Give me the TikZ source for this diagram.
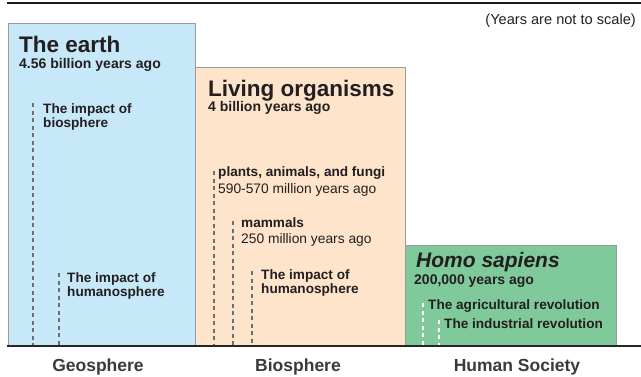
\documentclass[tikz,border=0pt]{standalone}
\usepackage{fontspec}
\setmainfont{Liberation Sans}
\definecolor{txt}{HTML}{231F20}
\definecolor{lbl}{HTML}{3A3A3A}
\definecolor{geo}{HTML}{C6E8F8}
\definecolor{bio}{HTML}{FDE4CB}
\definecolor{hum}{HTML}{7FC99A}
\definecolor{frame}{HTML}{9A9A9A}
\definecolor{dash}{HTML}{6E6E6E}
\tikzset{
  box/.style={draw=frame, line width=0.9pt},
  ttl/.style={anchor=base west, inner sep=0pt, text=txt, font=\fontsize{22.5}{24}\selectfont\bfseries},
  sub/.style={anchor=base west, inner sep=0pt, text=txt, font=\fontsize{14}{16}\selectfont\bfseries},
  lab/.style={anchor=base west, inner sep=0pt, text=txt, font=\fontsize{13.6}{14}\selectfont\bfseries},
  reg/.style={anchor=base west, inner sep=0pt, text=txt, font=\fontsize{13.8}{16}\selectfont},
  bot/.style={anchor=base, inner sep=0pt, text=lbl, font=\fontsize{17.5}{20}\selectfont\bfseries},
  gdash/.style={draw=dash, line width=1.3pt, dash pattern=on 4pt off 3.5pt},
  wdash/.style={draw=white, line width=1.4pt, dash pattern=on 4pt off 3.5pt},
}
\begin{document}
\begin{tikzpicture}[x=1pt, y=-1pt]
\useasboundingbox (0,0) rectangle (641,376);
% boxes
\path[box, fill=geo] (8,23) rectangle (195,346);
\path[box, fill=bio] (195,67) rectangle (405,346);
\path[box, fill=hum] (405,245) rectangle (616,346);
% rules
\coordinate (topL) at (7,3);
\coordinate (topR) at (641,3);
\draw[line width=1.3pt, black!90] (topL) -- (topR);
\coordinate (baseL) at (7,346);
\coordinate (baseR) at (641,346);
% dashed markers
\coordinate (g1t) at (33,103);  \coordinate (g1b) at (33,346);
\coordinate (g2t) at (59,273);  \coordinate (g2b) at (59,346);
\coordinate (b1t) at (214,171); \coordinate (b1b) at (214,346);
\coordinate (b2t) at (233,221); \coordinate (b2b) at (233,346);
\coordinate (b3t) at (252,271); \coordinate (b3b) at (252,346);
\coordinate (h1t) at (423,303); \coordinate (h1b) at (423,346);
\coordinate (h2t) at (439,320); \coordinate (h2b) at (439,346);
\draw[gdash] (g1t) -- (g1b);
\draw[gdash] (g2t) -- (g2b);
\draw[gdash] (b1t) -- (b1b);
\draw[gdash] (b2t) -- (b2b);
\draw[gdash] (b3t) -- (b3b);
\draw[wdash] (h1t) -- (h1b);
\draw[wdash] (h2t) -- (h2b);
\draw[line width=1.2pt, black!85] (baseL) -- (baseR);
% texts
\node[reg, anchor=base east, font=\fontsize{14.6}{16}\selectfont] (note) at (636,24) {(Years are not to scale)};
\node[ttl] (earth) at (19,52) {The earth};
\node[sub] (earthd) at (19,68) {4.56 billion years ago};
\node[lab] (gi1a) at (43,113) {The impact of};
\node[lab] (gi1b) at (43,127) {biosphere};
\node[lab] (gi2a) at (67,282) {The impact of};
\node[lab] (gi2b) at (67,296) {humanosphere};
\node[ttl] (life) at (208,96) {Living organisms};
\node[sub] (lifed) at (208,111) {4 billion years ago};
\node[lab] (plants) at (218,176) {plants, animals, and fungi};
\node[reg] (plantsd) at (218,193) {590-570 million years ago};
\node[lab] (mam) at (241,227) {mammals};
\node[reg] (mamd) at (241,243) {250 million years ago};
\node[lab] (bi3a) at (261,279) {The impact of};
\node[lab] (bi3b) at (261,293) {humanosphere};
\node[ttl, font=\fontsize{21}{24}\selectfont\bfseries\itshape] (homo) at (416,267) {Homo sapiens};
\node[sub] (homod) at (414,284) {200,000 years ago};
\node[lab] (agri) at (428,309) {The agricultural revolution};
\node[lab] (indu) at (444,328) {The industrial revolution};
\node[bot] (geo) at (98,371) {Geosphere};
\node[bot] (biol) at (298,371) {Biosphere};
\node[bot] (hs) at (517,371) {Human Society};
\end{tikzpicture}
\end{document}
